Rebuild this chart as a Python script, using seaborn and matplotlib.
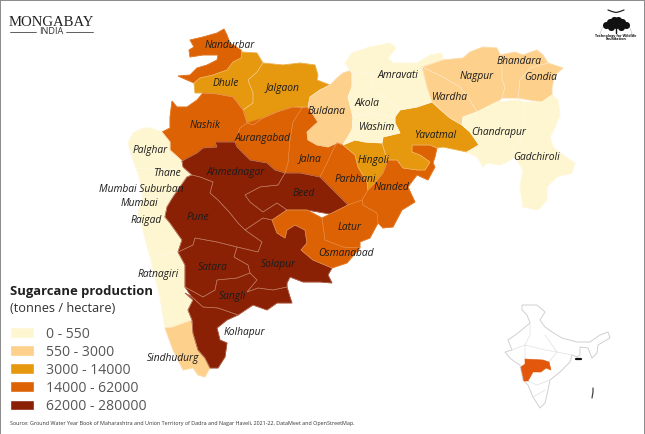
import matplotlib
matplotlib.use("Agg")
import matplotlib.pyplot as plt
import seaborn as sns

# class of every district, 0 = lowest range, 4 = highest
legend_labels = ["0 - 550", "550 - 3000", "3000 - 14000", "14000 - 62000", "62000 - 280000"]
legend_colors = ["#FEF6D0", "#FDD08C", "#E6990F", "#DC6204", "#8A2004"]

# outlines, in picture pixels
nandurbar = [(190,40),(203,37),(217,33),(224,29),(227,35),(230,43),(241,50),(242,58),(233,62),(227,70),(213,75),(200,78),(194,83),(187,80),(178,76),(190,75),(197,68),(207,65),(217,60),(218,55),(203,55),(190,57),(189,50),(194,47)]
dhule = [(194,83),(200,78),(213,75),(227,70),(233,62),(241,58),(242,52),(257,53),(263,63),(257,72),(248,80),(253,93),(253,103),(243,110),(233,97),(217,94),(203,93),(195,93)]
jalgaon = [(263,63),(283,65),(300,63),(315,65),(318,75),(317,80),(330,85),(320,90),(310,97),(308,107),(293,107),(277,112),(263,118),(253,125),(247,123),(243,110),(253,103),(253,93),(248,80),(257,72)]
nashik = [(172,101),(177,107),(187,107),(197,100),(203,93),(217,94),(233,97),(243,110),(247,123),(240,128),(235,142),(215,142),(217,147),(203,148),(197,153),(182,161),(170,150),(170,142),(162,132),(170,128),(170,117)]
aurangabad = [(247,123),(263,118),(277,112),(293,107),(302,108),(293,122),(290,140),(288,163),(285,173),(275,170),(267,163),(250,160),(237,147),(235,142),(240,128)]
jalna = [(302,108),(308,107),(318,122),(307,132),(308,140),(317,145),(328,147),(337,143),(333,150),(327,163),(320,177),(300,173),(285,173),(288,163),(290,140),(293,122)]
buldana = [(320,90),(330,85),(337,78),(343,73),(352,70),(352,87),(348,97),(353,117),(352,130),(343,145),(337,143),(328,147),(317,145),(308,140),(307,132),(318,122),(308,107),(310,97)]
parbhani = [(337,143),(343,145),(355,155),(358,167),(367,182),(368,190),(362,200),(348,205),(333,190),(320,177),(327,163),(333,150)]
hingoli = [(343,145),(355,140),(365,142),(382,143),(385,153),(388,160),(383,173),(375,183),(368,190),(367,182),(358,167),(355,155)]
nanded = [(388,160),(397,160),(403,168),(417,170),(425,170),(430,162),(420,155),(412,152),(412,145),(430,145),(437,148),(435,157),(433,163),(435,167),(428,180),(417,175),(408,187),(415,202),(402,210),(393,227),(383,228),(378,223),(377,213),(363,205),(362,200),(368,190),(375,183),(383,173)]
yavatmal = [(395,117),(400,110),(417,107),(432,102),(443,112),(450,118),(462,125),(470,132),(479,145),(467,152),(443,147),(437,148),(430,145),(412,145),(412,152),(420,155),(430,162),(425,170),(417,170),(403,168),(397,160),(388,160),(385,153),(382,143),(383,137),(400,133),(395,123)]
amravati = [(345,63),(352,53),(370,47),(390,43),(396,48),(388,58),(393,63),(417,63),(430,55),(442,53),(443,60),(422,67),(427,87),(432,102),(417,107),(400,110),(388,100),(372,90),(372,73),(352,73)]
akola = [(352,73),(372,73),(372,90),(388,100),(400,110),(395,117),(370,113),(353,117),(348,97),(352,87)]
washim = [(353,117),(370,113),(395,117),(395,123),(400,133),(383,137),(382,143),(365,142),(355,140),(343,145),(352,130)]
wardha = [(422,67),(443,77),(460,87),(470,100),(477,112),(463,117),(462,125),(450,118),(443,112),(432,102),(427,87)]
nagpur = [(422,67),(443,60),(463,58),(470,52),(483,47),(497,48),(500,55),(502,67),(502,80),(505,87),(502,98),(497,102),(487,107),(477,112),(470,100),(460,87),(443,77)]
bhandara = [(500,55),(515,52),(523,55),(537,50),(543,55),(548,63),(530,68),(520,80),(518,98),(502,98),(505,87),(502,80),(502,67)]
gondia = [(548,63),(563,68),(555,75),(552,87),(552,95),(542,102),(518,98),(520,80),(530,68)]
chandrapur = [(463,117),(477,112),(487,107),(497,102),(520,100),(523,102),(524,123),(520,140),(513,147),(515,157),(507,162),(500,165),(487,163),(483,167),(477,157),(467,152),(479,145),(470,132),(462,125)]
gadchiroli = [(523,102),(542,102),(552,95),(558,100),(560,115),(555,127),(550,137),(553,147),(563,155),(575,163),(572,173),(557,177),(547,187),(547,200),(538,210),(523,207),(520,187),(523,170),(515,157),(513,147),(520,140),(524,123)]
palghar = [(143,128),(150,128),(162,132),(170,142),(170,150),(182,161),(183,167),(160,170),(136,168),(132,157),(128,143),(133,133)]
thane = [(136,168),(160,170),(183,167),(192,175),(187,177),(173,197),(143,197),(140,180)]
raigad = [(143,197),(173,197),(167,207),(165,217),(170,223),(182,240),(178,252),(150,257),(143,230),(138,213)]
ratnagiri = [(150,257),(178,252),(185,265),(185,293),(193,300),(188,310),(192,320),(173,327),(165,328),(160,297)]
sindhudurg = [(165,328),(173,327),(192,320),(193,333),(198,350),(205,358),(210,368),(205,377),(198,375),(193,368),(183,370),(173,350)]
kolhapur = [(185,293),(192,297),(203,307),(218,308),(238,315),(227,320),(217,328),(220,340),(227,343),(225,357),(218,368),(210,368),(205,358),(198,350),(193,333),(192,320),(188,310),(193,300)]
satara = [(178,252),(193,245),(195,238),(217,242),(237,247),(234,257),(248,265),(250,273),(237,278),(217,280),(215,290),(203,297),(185,287),(185,265)]
pune = [(192,175),(200,177),(213,182),(210,193),(218,200),(230,213),(238,223),(245,230),(262,242),(258,252),(237,247),(217,242),(195,238),(193,245),(178,252),(182,240),(170,223),(165,217),(167,207),(173,197),(187,177)]
ahmednagar = [(182,161),(197,153),(203,148),(217,147),(215,142),(235,142),(237,147),(250,160),(267,163),(275,170),(285,173),(278,185),(260,187),(245,195),(250,202),(263,212),(277,203),(287,210),(272,220),(263,218),(245,230),(238,223),(230,213),(218,200),(210,193),(213,182),(200,177),(192,175),(183,167)]
beed = [(285,173),(300,173),(320,177),(333,190),(348,205),(330,214),(307,210),(287,210),(277,203),(263,212),(250,202),(245,195),(260,187),(278,185)]
solapur = [(245,230),(263,218),(272,220),(277,233),(285,238),(287,230),(295,225),(305,230),(307,243),(301,250),(313,260),(332,268),(328,275),(332,283),(320,282),(303,282),(290,277),(287,283),(287,287),(273,290),(258,288),(247,292),(257,280),(250,273),(248,265),(234,257),(237,247),(258,252),(262,242)]
sangli = [(215,290),(217,280),(237,278),(250,273),(257,280),(247,292),(258,288),(273,290),(287,287),(290,297),(292,303),(277,303),(267,310),(253,305),(238,315),(218,308),(203,307),(192,297),(185,287),(203,297)]
osmanabad = [(272,220),(287,210),(307,210),(322,218),(325,240),(343,247),(360,248),(347,263),(332,268),(313,260),(301,250),(307,243),(305,230),(295,225),(287,230),(285,238),(277,233)]
latur = [(322,218),(330,214),(348,205),(362,200),(363,205),(377,213),(378,223),(370,238),(360,242),(360,248),(343,247),(325,240)]

districts = [nandurbar, dhule, jalgaon, nashik, aurangabad, jalna, buldana, parbhani, hingoli, nanded,
             yavatmal, amravati, akola, washim, wardha, nagpur, bhandara, gondia, chandrapur, gadchiroli,
             palghar, thane, raigad, ratnagiri, sindhudurg, kolhapur, satara, pune, ahmednagar, beed,
             solapur, sangli, osmanabad, latur]
district_class = [3, 2, 2, 3, 3, 3, 1, 3, 2, 3,
                  2, 0, 0, 0, 1, 1, 1, 1, 0, 0,
                  0, 0, 0, 0, 1, 4, 4, 4, 4, 4,
                  4, 4, 3, 3]

label_names = ["Nandurbar", "Dhule", "Jalgaon", "Amravati", "Bhandara", "Nagpur", "Gondia", "Buldana", "Akola",
               "Wardha", "Washim", "Yavatmal", "Chandrapur", "Nashik", "Aurangabad", "Palghar", "Jalna", "Hingoli",
               "Thane", "Ahmednagar", "Parbhani", "Nanded", "Gadchiroli", "Mumbai Suburban", "Beed", "Mumbai",
               "Raigad", "Pune", "Latur", "Osmanabad", "Ratnagiri", "Satara", "Solapur", "Sangli", "Kolhapur",
               "Sindhudurg"]
label_x = [230, 226, 283, 398, 519, 477, 541, 327, 367, 450, 377, 435, 499, 205, 263, 150, 310, 374,
           167, 236, 355, 391, 537, 141, 304, 139, 146, 198, 349, 346, 158, 213, 278, 232, 244, 173]
label_y = [45, 84, 88, 75, 62, 76, 77, 112, 104, 97, 127, 135, 133, 126, 138, 151, 159, 160,
           174, 173, 179, 188, 157, 189, 193, 204, 220, 217, 228, 254, 274, 268, 264, 297, 332, 359]

india = [(522,305),(537,305),(545,312),(540,320),(545,327),(552,332),(562,338),(577,342),(590,342),(600,335),(608,332),(610,338),(598,345),(597,353),(592,358),(588,348),(580,347),(580,355),(577,357),(572,355),(570,362),(560,372),(550,380),(548,390),(545,403),(540,408),(533,397),(528,385),(523,380),(520,365),(515,362),(510,358),(505,352),(512,350),(508,340),(518,333),(530,323),(527,315),(522,310)]
maharashtra = [(525,359),(543,360),(549,362),(551,370),(546,368),(541,372),(533,372),(528,381),(524,381),(521,367),(525,364)]
state_line_1 = [(512,350),(525,345),(530,335),(530,323)]
state_line_2 = [(525,359),(525,345),(545,350),(557,352),(572,355)]
state_line_3 = [(549,362),(557,352),(545,335)]
state_line_4 = [(528,381),(537,385),(550,380)]
state_line_5 = [(533,397),(545,390)]
andaman = [(593,388),(593,392),(592,398)]

sns.set_theme(style="white")
plt.rcParams["font.family"] = ["Open Sans", "DejaVu Sans"]

fig = plt.figure(figsize=(6.45, 4.34), dpi=100)
ax = fig.add_axes([0, 0, 1, 1])
ax.set_xlim(0, 645)
ax.set_ylim(434, 0)
ax.set_xticks([])
ax.set_yticks([])
for s in ax.spines.values():
    s.set_color("#8a8a8a")
    s.set_linewidth(1.4)
ax.spines["bottom"].set_visible(False)

palette = sns.color_palette(legend_colors)
for outline, cls in zip(districts, district_class):
    xs, ys = zip(*outline)
    ax.fill(xs, ys, facecolor=palette[cls], edgecolor=palette[cls], linewidth=0.6, zorder=2)
# faint district borders on top, dark classes show them most
for outline, cls in zip(districts, district_class):
    xs, ys = zip(*outline)
    if cls == 4:
        ax.fill(xs, ys, facecolor="none", edgecolor="#c98a70", linewidth=0.45, alpha=0.7, zorder=3)
    elif cls == 3:
        ax.fill(xs, ys, facecolor="none", edgecolor="#ee9a55", linewidth=0.4, alpha=0.6, zorder=3)
    else:
        ax.fill(xs, ys, facecolor="none", edgecolor="#ffffff", linewidth=0.3, alpha=0.5, zorder=3)

for name, x, y in zip(label_names, label_x, label_y):
    ax.text(x, y, name, ha="center", va="center", style="italic", fontsize=7.4, color="#1c1c1c", zorder=5)

# small locator map
xs, ys = zip(*india)
ax.fill(xs, ys, facecolor="white", edgecolor="#d0d0d0", linewidth=0.7, zorder=2)
for line in [state_line_1, state_line_2, state_line_3, state_line_4, state_line_5]:
    xs, ys = zip(*line)
    ax.plot(xs, ys, color="#e0e0e0", linewidth=0.5, zorder=2)
xs, ys = zip(*maharashtra)
ax.fill(xs, ys, facecolor="#E2570B", edgecolor="#E2570B", linewidth=0.4, zorder=3)
xs, ys = zip(*andaman)
ax.plot(xs, ys, color="#444444", linewidth=0.9)
ax.plot([576, 581], [359, 359], color="#111111", linewidth=1.6)

# legend, swatches are a small bar chart
ax.text(10, 291, "Sugarcane production", fontsize=9.4, fontweight="bold", color="#1f1f1f", va="center")
ax.text(10, 309, "(tonnes / hectare)", fontsize=9.2, color="#333333", va="center")

leg_ax = fig.add_axes([10 / 645, 1 - 414 / 434, 24 / 645, 90.5 / 434])
sns.barplot(y=legend_labels, x=[1] * 5, hue=legend_labels, palette=legend_colors, width=0.6,
            saturation=1, dodge=False, legend=False, ax=leg_ax)
leg_ax.set_xlim(0, 1)
leg_ax.set_xticks([])
leg_ax.set_xlabel("")
leg_ax.yaxis.tick_right()
leg_ax.tick_params(axis="y", length=0, pad=9, labelsize=10.1, labelcolor="#555555")
leg_ax.patch.set_alpha(0)
sns.despine(ax=leg_ax, left=True, right=True, top=True, bottom=True)

# header and footer
ax.text(51.5, 22, "MONGABAY", family="Liberation Serif", fontsize=10.6, ha="center", va="center", color="#222222")
ax.text(51.5, 32, "INDIA", fontsize=6.6, ha="center", va="center", color="#333333")
ax.plot([10, 36], [32, 32], color="#444444", linewidth=0.6)
ax.plot([66, 93], [32, 32], color="#444444", linewidth=0.6)
ax.text(10, 424, "Source: Ground Water Year Book of Maharashtra and Union Territory of Dadra and Nagar Haveli, 2021-22, DataMeet and OpenStreetMap.",
        fontsize=3.92, color="#333333", va="center")

# tree logo
logo_x = [606, 610, 614, 618, 622, 626, 611, 616, 621]
logo_y = [25, 22, 20, 20, 22, 25, 27, 25, 27]
ax.scatter(logo_x, logo_y, s=26, color="#111111", linewidths=0, zorder=4)
ax.plot([616, 616], [26, 33], color="#111111", linewidth=1)
ax.plot([599, 602, 608, 616, 624, 630, 633], [37, 28, 21, 18, 21, 28, 37], color="#c4c4c4", linewidth=0.5)
ax.plot([608, 612, 616, 620, 624], [10, 11.5, 12.5, 11.5, 10], color="#222222", linewidth=0.9)
ax.text(616, 35.5, "Technology for Wildlife", fontsize=2.6, fontweight="bold", ha="center", va="center", color="#111111")
ax.text(616, 39, "Foundation", fontsize=2.6, fontweight="bold", ha="center", va="center", color="#111111")

fig.savefig("out.png", dpi=100)
